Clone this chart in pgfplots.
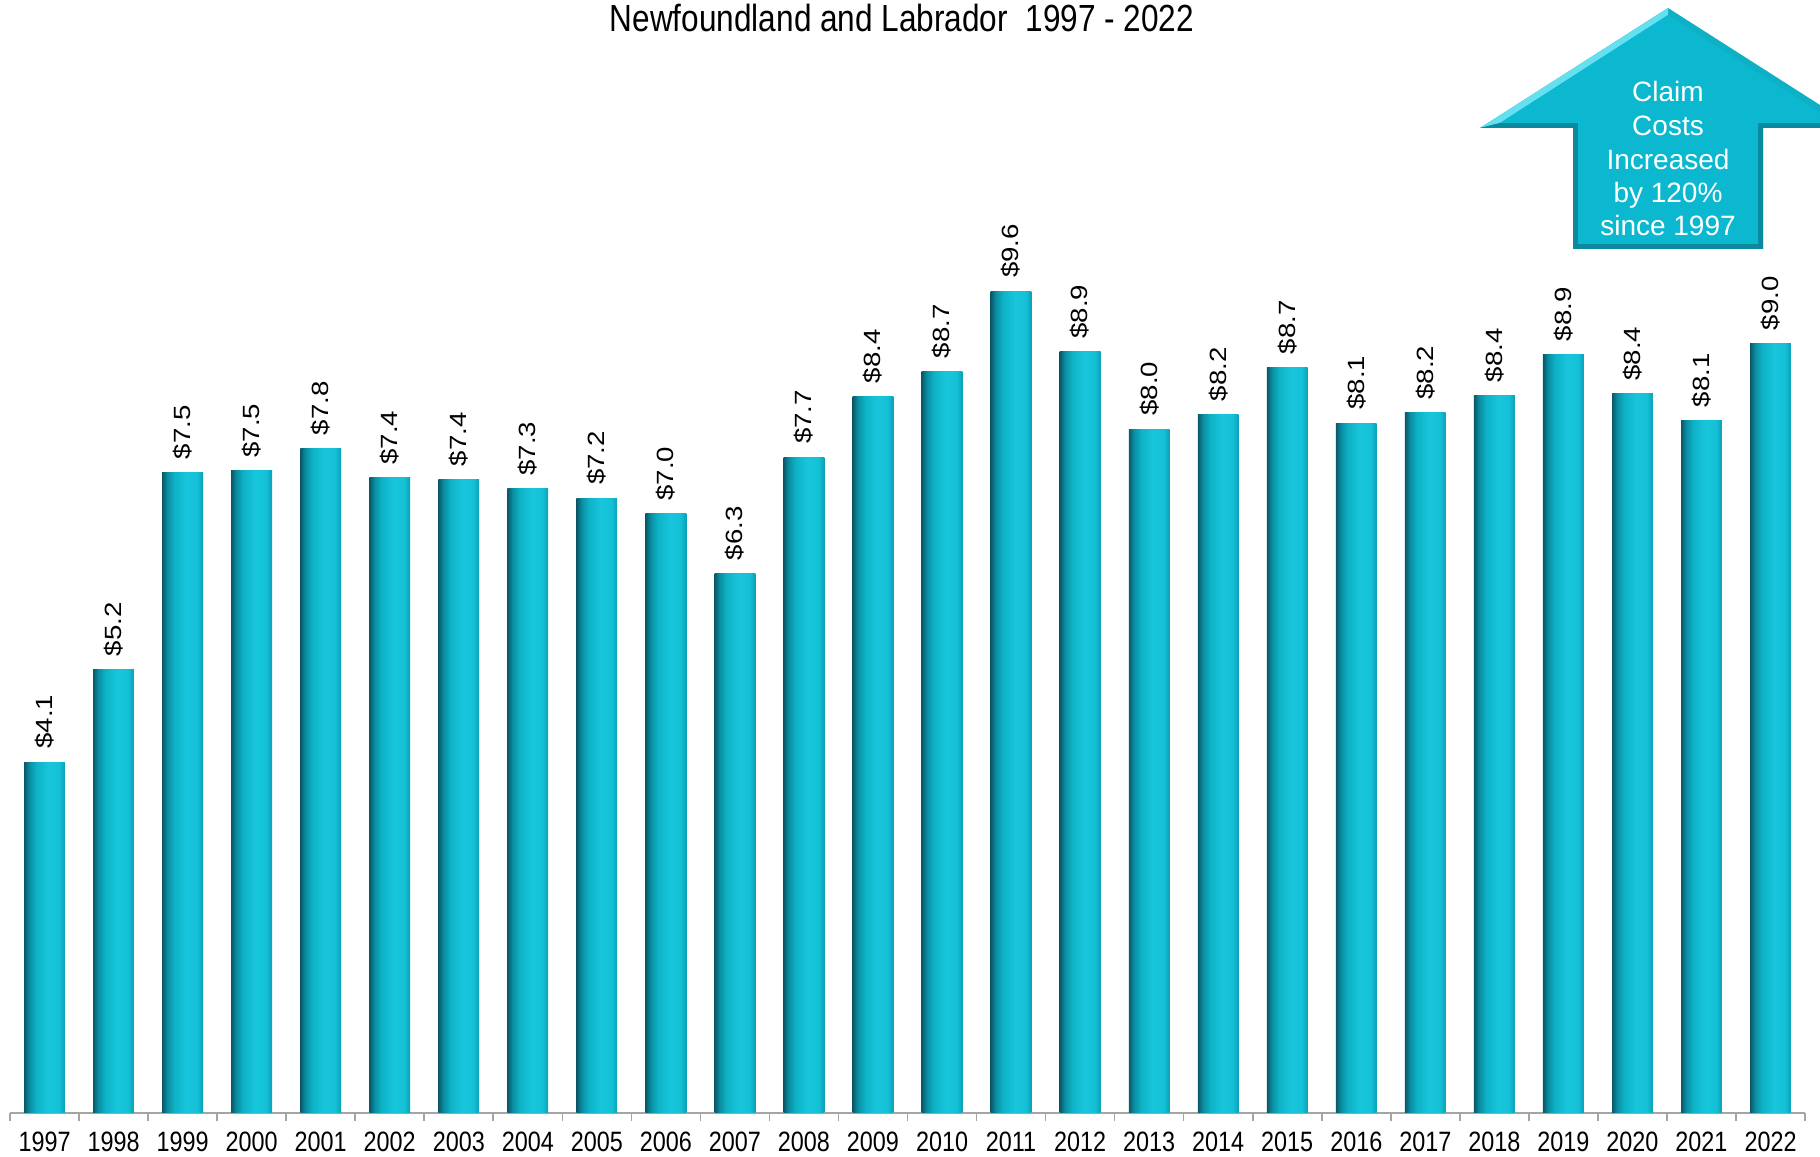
\documentclass[border=0pt]{standalone}
\usepackage{pgfplots}
\usepackage{pgfplotstable}
\pgfplotsset{compat=1.18}
\usepackage{fontspec}
\setmainfont{Liberation Sans}
\definecolor{bA}{RGB}{10,88,104}
\definecolor{bB}{RGB}{10,140,160}
\definecolor{bC}{RGB}{14,178,198}
\definecolor{bD}{RGB}{24,198,220}
\definecolor{bE}{RGB}{20,192,214}
\definecolor{bF}{RGB}{10,160,182}
\definecolor{arMain}{RGB}{12,184,207}
\definecolor{arLight}{RGB}{100,224,240}
\definecolor{arMid}{RGB}{14,176,198}
\definecolor{arDark}{RGB}{10,138,156}
\definecolor{axgray}{RGB}{165,165,165}
\pgfdeclarehorizontalshading{barshade}{100bp}{color(0bp)=(bA); color(25bp)=(bA); color(31bp)=(bB); color(40bp)=(bC); color(55bp)=(bD); color(68bp)=(bE); color(75bp)=(bF); color(100bp)=(bF)}
\pgfplotstableread{
x y
0 4.10
1 5.18
2 7.48
3 7.50
4 7.76
5 7.42
6 7.40
7 7.29
8 7.18
9 7.00
10 6.30
11 7.66
12 8.37
13 8.66
14 9.60
15 8.89
16 7.99
17 8.16
18 8.71
19 8.06
20 8.18
21 8.38
22 8.86
23 8.40
24 8.09
25 8.99
}\costdata
\begin{document}
\begin{tikzpicture}[x=1bp,y=1bp]
\useasboundingbox (0,0) rectangle (910,578.5);
\begin{axis}[
  at={(5bp,22bp)}, anchor=south west,
  scale only axis, width=897.5bp, height=513.6bp,
  xmin=-0.5, xmax=25.5, ymin=0, ymax=12,
  axis x line*=bottom, axis y line=none,
  axis line style={axgray, line width=1bp},
  clip=false,
  ybar, bar width=20.4bp,
  xtick={0,...,25},
  xticklabels={1997,1998,1999,2000,2001,2002,2003,2004,2005,2006,2007,2008,2009,2010,2011,2012,2013,2014,2015,2016,2017,2018,2019,2020,2021,2022},
  major tick length=0pt,
  minor xtick={-0.5,0.5,...,25.5},
  minor tick length=4bp,
  tick align=outside,
  minor tick style={axgray, line width=0.8bp},
  xticklabel style={font=\fontsize{14bp}{16bp}\selectfont, xscale=0.835, inner sep=0pt, anchor=north, yshift=-9.3bp},
  /pgf/number format/assume math mode=true,
  nodes near coords={\$\pgfmathprintnumber[fixed,fixed zerofill,precision=1]{\pgfplotspointmeta}},
  every node near coord/.append style={font=\fontsize{13.8bp}{16bp}\selectfont, black, xscale=0.85, rotate=90, anchor=west, inner xsep=6.5bp, inner ysep=0pt},
]
\pgfplotsinvokeforeach{0,...,25}{
\addplot[draw=none, shading=barshade, bar shift=0pt] table[x=x, y=y, restrict expr to domain={\coordindex}{#1:#1}] {\costdata};
}
\end{axis}
% title
\node[anchor=base, font=\fontsize{18.9bp}{22bp}\selectfont, xscale=0.835] at (451,562.5) {Newfoundland and Labrador\ \ 1997 - 2022};
% arrow annotation
\fill[arMid] (740,514.5) -- (834,574.5) -- (928,514.5) -- (881.5,514.5) -- (881.5,454) -- (786.5,454) -- (786.5,514.5) -- cycle;
\fill[arLight] (740,514.5) -- (834,574.5) -- (834,571) -- (750,517) -- cycle;
\fill[arDark] (786.5,514.5) -- (789,517) -- (789,456.5) -- (879,456.5) -- (879,517) -- (881.5,514.5) -- (881.5,454) -- (786.5,454) -- cycle;
\fill[arDark] (740,514.5) -- (750,517) -- (789,517) -- (786.5,514.5) -- cycle;
\fill[arDark] (928,514.5) -- (918,517) -- (879,517) -- (881.5,514.5) -- cycle;
\fill[arMain] (834,571) -- (918,517) -- (879,517) -- (879,456.5) -- (789,456.5) -- (789,517) -- (750,517) -- cycle;
\begin{scope}[every node/.style={anchor=base, text=white, font=\fontsize{14bp}{16bp}\selectfont, inner sep=0pt}]
\node at (834,527.5) {Claim};
\node at (834,510.5) {Costs};
\node at (834,493.5) {Increased};
\node at (834,477) {by 120\%};
\node at (834,460.5) {since 1997};
\end{scope}
\end{tikzpicture}
\end{document}
